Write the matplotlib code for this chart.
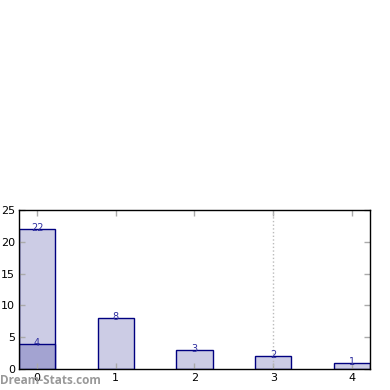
import matplotlib
matplotlib.use('Agg')
from matplotlib import pyplot as plt

categories = [0, 1, 2, 3, 4]
totals = [22, 8, 3, 2, 1]
highlight = [4, 0, 0, 0, 0]
marker_x = 3

fill_color = '#ccccE5'
dark_fill = '#a3a3d1'
edge_color = '#000080'

fig = plt.figure(figsize=(3.9, 3.9), dpi=100)
ax = fig.add_axes([19 / 390, 21 / 390, 351 / 390, 159 / 390])

ax.bar(categories, totals, width=0.46, color=fill_color, edgecolor=edge_color, linewidth=1)
ax.bar(categories[:1], highlight[:1], width=0.46, color=dark_fill, edgecolor=edge_color, linewidth=1)

for x, v in zip(categories, totals):
    ax.text(x, v + 0.15, str(v), ha='center', va='center', fontsize=7, color='#3030a0')
ax.text(categories[0], highlight[0] + 0.15, str(highlight[0]), ha='center', va='center',
        fontsize=7, color='#3030a0')

ax.axvline(marker_x, color='#bbbbbb', linestyle=':', linewidth=1)

ax.set_xlim(-0.23, 4.23)
ax.set_ylim(0, 25)
ax.set_xticks(categories)
ax.set_yticks([0, 5, 10, 15, 20, 25])
ax.tick_params(direction='in', length=4, width=1, color='#aaaaaa', labelsize=8,
               top=True, right=True, pad=3)
for s in ax.spines.values():
    s.set_linewidth(1)

fig.text(0.0, 0.025, 'Dream-Stats.com', fontsize=8.5, fontweight='bold', color='#999999',
         family='Open Sans', ha='left', va='center')

fig.savefig('out.png', dpi=100)
